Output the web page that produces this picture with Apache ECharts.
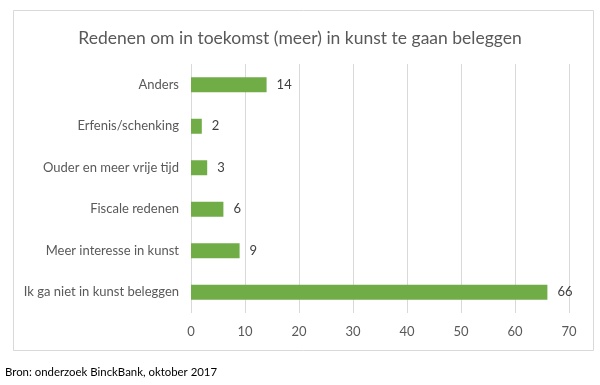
<!DOCTYPE html>
<html><head><meta charset="utf-8">
<script src="https://cdn.jsdelivr.net/npm/echarts@6/dist/echarts.min.js"></script>
<style>html,body{margin:0;padding:0;background:#fff}#c{width:600px;height:385px}</style>
</head><body><div id="c"></div>
<script>
const titleText = 'Redenen om in toekomst (meer) in kunst te gaan beleggen';
const sourceText = 'Bron: onderzoek BinckBank, oktober 2017';
const categories = ['Ik ga niet in kunst beleggen','Meer interesse in kunst','Fiscale redenen','Ouder en meer vrije tijd','Erfenis/schenking','Anders'];
const values = [66, 9, 6, 3, 2, 14];
const axisMin = 0, axisMax = 70, axisStep = 10;

const font = 'Lato, "Open Sans", sans-serif';
const chart = echarts.init(document.getElementById('c'), null, {renderer:'canvas'});
chart.setOption({
  animation:false,
  backgroundColor:'#fff',
  title:{text:titleText,left:'center',top:24,textStyle:{fontFamily:font,fontSize:17.5,fontWeight:'normal',color:'#595959'}},
  graphic:[
    {type:'rect',shape:{x:13.5,y:10.5,width:580,height:340},style:{fill:'none',stroke:'#d9d9d9',lineWidth:1},silent:true,z:-1},
    {type:'text',left:5,top:367,style:{text:sourceText,fontFamily:font,fontSize:11.4,fill:'#000'}}
  ],
  grid:{left:191,right:31,top:64,bottom:72,containLabel:false},
  xAxis:{type:'value',min:axisMin,max:axisMax,interval:axisStep,
    axisLine:{show:false},axisTick:{show:false},
    splitLine:{lineStyle:{color:'#d9d9d9',width:1}},
    axisLabel:{margin:12,fontFamily:font,fontSize:13,color:'#595959'}},
  yAxis:{type:'category',data:categories,
    axisLine:{show:false},axisTick:{show:false},
    axisLabel:{margin:12,fontFamily:font,fontSize:13,color:'#595959'}},
  series:[{type:'bar',data:values,barWidth:15,itemStyle:{color:'#70AD47'},
    label:{show:true,position:'right',distance:10,fontFamily:font,fontSize:13,color:'#404040'}}]
});
</script></body></html>
